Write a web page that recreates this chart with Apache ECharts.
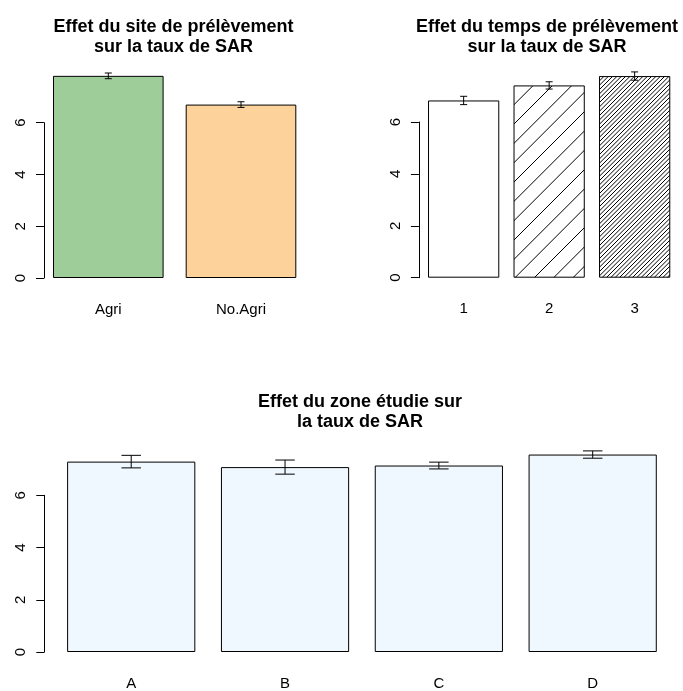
<!DOCTYPE html>
<html>
<head>
<meta charset="utf-8">
<script src="https://cdn.jsdelivr.net/npm/echarts@6/dist/echarts.min.js"></script>
<style>
  html, body { margin: 0; padding: 0; background: #fff; }
  #chart { width: 683px; height: 691px; }
</style>
</head>
<body>
<div id="chart"></div>
<script>
// Mean SAR and standard error for each factor level
const siteLevels = ['Agri', 'No.Agri'];
const siteMeans = [7.81, 6.70];
const siteSE = [0.11, 0.11];

const timeLevels = ['1', '2', '3'];
const timeMeans = [6.83, 7.41, 7.77];
const timeSE = [0.16, 0.14, 0.16];

const zoneLevels = ['A', 'B', 'C', 'D'];
const zoneMeans = [7.29, 7.08, 7.14, 7.56];
const zoneSE = [0.24, 0.27, 0.13, 0.14];

const yTicks = [0, 2, 4, 6];

const FONT = '"Liberation Sans", Arial, Helvetica, sans-serif';

// Diagonal "/" hatching tile: `lines` parallel lines per tile
function hatch(tile, lines) {
  const c = document.createElement('canvas');
  c.width = tile; c.height = tile;
  const g = c.getContext('2d');
  g.fillStyle = '#fff';
  g.fillRect(0, 0, tile, tile);
  g.strokeStyle = '#000';
  g.lineWidth = 1;
  g.beginPath();
  for (let j = -1; j <= 2 * lines + 1; j++) {
    const k = j * tile / lines;
    g.moveTo(-2, k + 2);
    g.lineTo(k + 2, -2);
  }
  g.stroke();
  return c;
}

// Error bar with horizontal caps of width `cap` px
function errorBars(cap) {
  return function (params, api) {
    const x = api.value(0);
    const lo = api.coord([x, api.value(1)]);
    const hi = api.coord([x, api.value(2)]);
    const h = cap / 2;
    const style = { stroke: '#000', lineWidth: 1, fill: null };
    return {
      type: 'group',
      children: [
        { type: 'line', shape: { x1: lo[0], y1: lo[1], x2: hi[0], y2: hi[1] }, style: style },
        { type: 'line', shape: { x1: lo[0] - h, y1: lo[1], x2: lo[0] + h, y2: lo[1] }, style: style },
        { type: 'line', shape: { x1: hi[0] - h, y1: hi[1], x2: hi[0] + h, y2: hi[1] }, style: style }
      ]
    };
  };
}

function errData(means, se) {
  return means.map((m, i) => [i, m - se[i], m + se[i]]);
}

function xAxisFor(gridIndex, levels) {
  return {
    type: 'category', gridIndex: gridIndex, data: levels,
    axisLine: { show: false }, axisTick: { show: false },
    axisLabel: { fontSize: 15, color: '#000', fontFamily: FONT, margin: 24 },
    splitLine: { show: false }
  };
}

function yAxisFor(gridIndex, offset) {
  return {
    type: 'value', gridIndex: gridIndex,
    min: yTicks[0], max: yTicks[yTicks.length - 1], interval: yTicks[1] - yTicks[0],
    offset: offset,
    axisLine: { show: true, lineStyle: { color: '#000', width: 1 } },
    axisTick: { show: true, length: 8, lineStyle: { color: '#000', width: 1 } },
    axisLabel: { rotate: 90, margin: 16, fontSize: 15, color: '#000', fontFamily: FONT },
    splitLine: { show: false }
  };
}

const timeFills = ['#ffffff', { image: hatch(58, 3), repeat: 'repeat' }, { image: hatch(13, 3), repeat: 'repeat' }];

const titleStyle = { font: 'bold 18px ' + FONT, fill: '#000', textAlign: 'center', textVerticalAlign: 'top', lineHeight: 20 };

const option = {
  backgroundColor: '#fff',
  animation: false,
  grid: [
    { left: 41.95, top: 122.7, width: 265.4, height: 155.3 },
    { left: 420.9, top: 122, width: 256.5, height: 155.7 },
    { left: 54.3, top: 495.3, width: 615.3, height: 158 }
  ],
  xAxis: [xAxisFor(0, siteLevels), xAxisFor(1, timeLevels), xAxisFor(2, zoneLevels)],
  yAxis: [yAxisFor(0, -2), yAxisFor(1, 2), yAxisFor(2, 10)],
  graphic: [
    { type: 'text', x: 173.5, y: 17, style: Object.assign({ text: 'Effet du site de prélèvement\nsur la taux de SAR' }, titleStyle) },
    { type: 'text', x: 547, y: 17, style: Object.assign({ text: 'Effet du temps de prélèvement\nsur la taux de SAR' }, titleStyle) },
    { type: 'text', x: 360, y: 392, style: Object.assign({ text: 'Effet du zone étudie sur\nla taux de SAR' }, titleStyle) }
  ],
  series: [
    {
      type: 'bar', xAxisIndex: 0, yAxisIndex: 0, barWidth: 110.6, clip: false,
      data: siteMeans.map((v, i) => ({ value: v, itemStyle: { color: ['#9ecd9a', '#fed39b'][i] } })),
      itemStyle: { borderColor: '#000', borderWidth: 1 }
    },
    {
      type: 'custom', xAxisIndex: 0, yAxisIndex: 0, renderItem: errorBars(7),
      encode: { x: 0, y: [1, 2] }, data: errData(siteMeans, siteSE), z: 5
    },
    {
      type: 'bar', xAxisIndex: 1, yAxisIndex: 1, barWidth: 71.25, clip: false,
      data: timeMeans.map((v, i) => ({ value: v, itemStyle: { color: timeFills[i] } })),
      itemStyle: { borderColor: '#000', borderWidth: 1 }
    },
    {
      type: 'custom', xAxisIndex: 1, yAxisIndex: 1, renderItem: errorBars(7),
      encode: { x: 0, y: [1, 2] }, data: errData(timeMeans, timeSE), z: 5
    },
    {
      type: 'bar', xAxisIndex: 2, yAxisIndex: 2, barWidth: 128.2, clip: false,
      data: zoneMeans,
      itemStyle: { color: '#f0f8ff', borderColor: '#000', borderWidth: 1 }
    },
    {
      type: 'custom', xAxisIndex: 2, yAxisIndex: 2, renderItem: errorBars(19.5),
      encode: { x: 0, y: [1, 2] }, data: errData(zoneMeans, zoneSE), z: 5
    }
  ]
};

const chart = echarts.init(document.getElementById('chart'), null, { renderer: 'canvas' });
chart.setOption(option);
</script>
</body>
</html>
